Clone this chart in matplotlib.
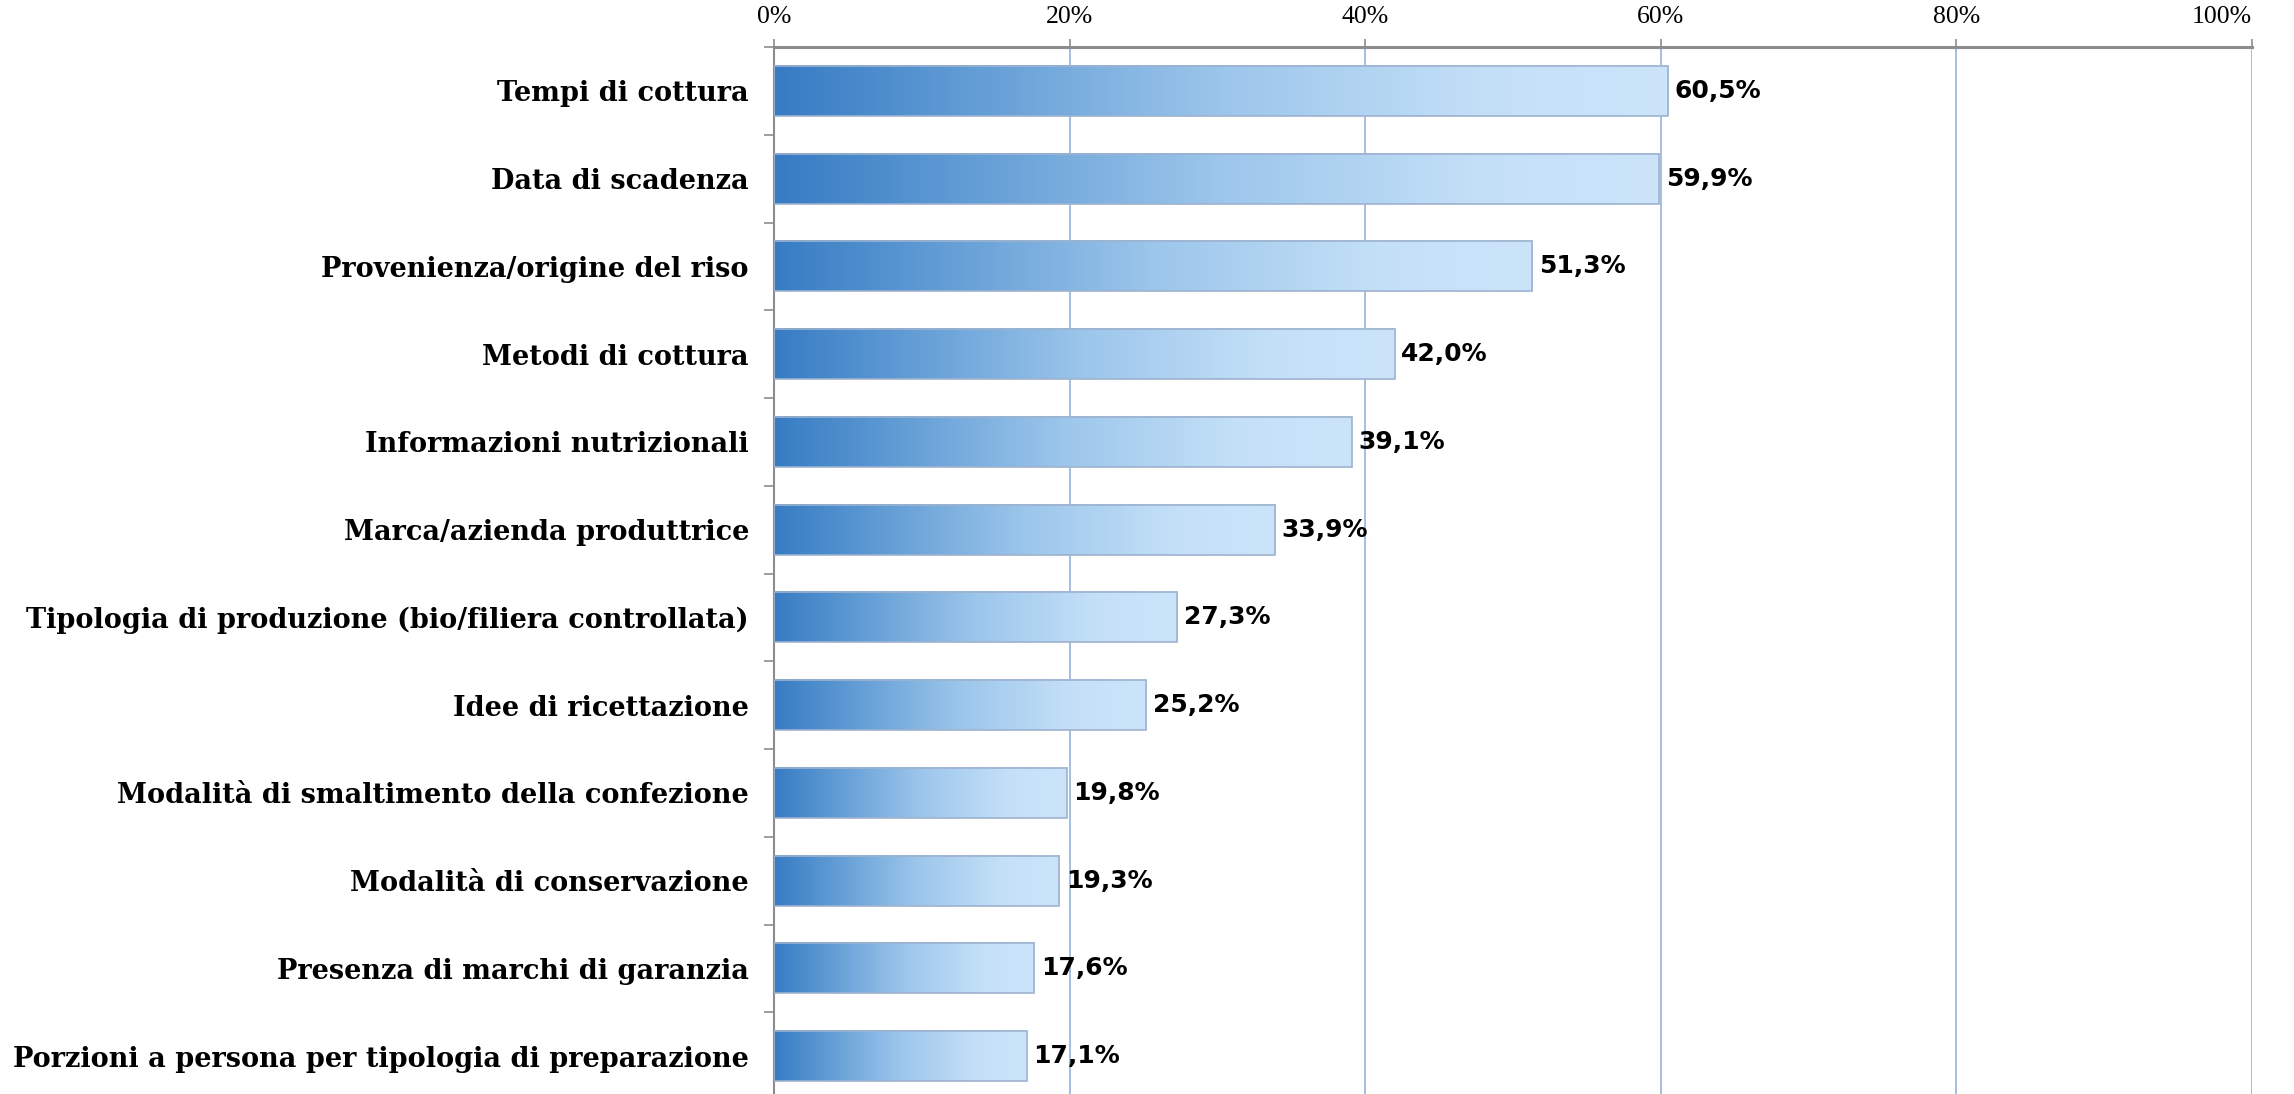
import matplotlib.pyplot as plt
import numpy as np
from matplotlib.colors import LinearSegmentedColormap
from matplotlib.ticker import FixedLocator, PercentFormatter

categories = [
    "Tempi di cottura",
    "Data di scadenza",
    "Provenienza/origine del riso",
    "Metodi di cottura",
    "Informazioni nutrizionali",
    "Marca/azienda produttrice",
    "Tipologia di produzione (bio/filiera controllata)",
    "Idee di ricettazione",
    "Modalità di smaltimento della confezione",
    "Modalità di conservazione",
    "Presenza di marchi di garanzia",
    "Porzioni a persona per tipologia di preparazione",
]
values = [60.5, 59.9, 51.3, 42.0, 39.1, 33.9, 27.3, 25.2, 19.8, 19.3, 17.6, 17.1]
xticks = [0, 20, 40, 60, 80, 100]

fig = plt.figure(figsize=(22.94, 10.94), dpi=100)
ax = fig.add_axes([0.3374, -0.0055, 0.6443, 0.9625])

# gradient fill, dark blue on the left to pale blue on the right
grad_cmap = LinearSegmentedColormap.from_list(
    "bluegrad", [(0.0, "#377CC3"), (0.2, "#5E9AD4"), (0.5, "#9CC6EB"),
                 (0.8, "#C4E0F8"), (1.0, "#CBE4FA")])
gradient = np.linspace(0, 1, 256).reshape(1, -1)

y = np.arange(len(categories))
bars = ax.barh(y, values, height=0.57, facecolor="none",
               edgecolor="#9DB2CE", linewidth=1.2, zorder=3)

for bar, v in zip(bars, values):
    x0, y0 = bar.get_x(), bar.get_y()
    w, h = bar.get_width(), bar.get_height()
    ax.imshow(gradient, cmap=grad_cmap, aspect="auto",
              extent=[x0, x0 + w, y0 + h, y0], zorder=2, interpolation="bicubic")
    ax.text(x0 + w + 0.45, y0 + h / 2, f"{v:.1f}".replace(".", ",") + "%",
            va="center", ha="left", fontsize=18, fontweight="bold",
            family="DejaVu Sans", color="black")

ax.set_xlim(0, 100)
ax.set_ylim(len(categories) - 0.5, -0.5)

# x axis on top
ax.xaxis.set_major_locator(FixedLocator(xticks))
ax.xaxis.set_major_formatter(PercentFormatter(decimals=0))
ax.xaxis.tick_top()
ax.tick_params(axis="x", which="major", direction="out", length=6, width=1.2,
               color="#8C8C8C", pad=8, labelsize=18.5)
xlabels = ax.get_xticklabels()
for lbl in xlabels:
    lbl.set_family("Liberation Serif")
xlabels[-1].set_horizontalalignment("right")
ax.grid(axis="x", color="#A4BEE0", linewidth=1.4, zorder=0)

# y axis labels at bar centres, tick marks between bars
ax.set_yticks(y)
ax.set_yticklabels(categories, fontsize=19.5, fontweight="bold", family="DejaVu Serif")
ax.set_yticks(np.arange(len(categories) + 1) - 0.5, minor=True)
ax.tick_params(axis="y", which="major", length=0, pad=18)
ax.tick_params(axis="y", which="minor", direction="out", length=7, width=1.2,
               color="#8C8C8C")

ax.spines["top"].set_color("#8C8C8C")
ax.spines["top"].set_linewidth(2.2)
ax.spines["left"].set_color("#8C8C8C")
ax.spines["left"].set_linewidth(1.5)
ax.spines["right"].set_visible(False)
ax.spines["bottom"].set_visible(False)

fig.savefig("out.png", dpi=100)
